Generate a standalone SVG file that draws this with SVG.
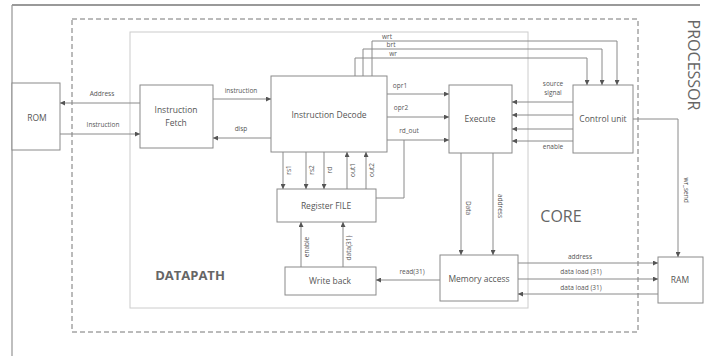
<svg xmlns="http://www.w3.org/2000/svg" width="708" height="356" viewBox="0 0 708 356">
<style>
.box{fill:#fff;stroke:#8a8a8a;stroke-width:1}
.ln{fill:none;stroke:#8a8a8a;stroke-width:1}
.ar{marker-end:url(#ah)}
.t{font-family:"Open Sans","DejaVu Sans",sans-serif;fill:#555;font-size:8.5px;text-anchor:middle}
.s{font-family:"Open Sans","DejaVu Sans",sans-serif;fill:#555;font-size:6.5px;text-anchor:middle}
.big{font-family:"Open Sans","DejaVu Sans",sans-serif;fill:#666;text-anchor:middle}
</style>
<defs>
<marker id="ah" viewBox="0 0 6 6" refX="6" refY="3" markerWidth="5" markerHeight="5" markerUnits="userSpaceOnUse" orient="auto">
<path d="M0,0 L6,3 L0,6 z" fill="#555"/>
</marker>
</defs>
<rect width="708" height="356" fill="#fff"/>
<g id="processor">
<line x1="12" y1="5" x2="12" y2="356" stroke="#aaa" stroke-width="1.5"/>
<line x1="12" y1="5" x2="700" y2="5" stroke="#999" stroke-width="2"/>
<text class="big" font-size="16" transform="translate(688,65) rotate(90)">PROCESSOR</text>
</g>
<g id="core">
<rect x="72" y="19" width="566" height="313" fill="none" stroke="#777" stroke-width="1" stroke-dasharray="5,3"/>
<text class="big" font-size="16" x="561" y="222">CORE</text>
</g>
<g id="datapath">
<rect x="130" y="32" width="398" height="276" fill="none" stroke="#ccc" stroke-width="1"/>
<text class="big" font-size="13" x="190" y="280" font-weight="bold" fill="#777">DATAPATH</text>
</g>
<g id="rom"><rect class="box" x="12" y="83" width="48" height="67"/><text class="t" font-size="10" x="37" y="121">ROM</text></g>
<g id="fetch"><rect class="box" x="140" y="85" width="73" height="63"/><text class="t" x="176" y="113">Instruction</text><text class="t" x="176" y="126">Fetch</text></g>
<g id="decode"><rect class="box" x="271" y="76" width="116" height="76"/><text class="t" x="329" y="118">Instruction Decode</text></g>
<g id="execute"><rect class="box" x="449" y="85" width="63" height="68"/><text class="t" x="480" y="122">Execute</text></g>
<g id="control"><rect class="box" x="573" y="85" width="60" height="68"/><text class="t" x="603" y="122">Control unit</text></g>
<g id="regfile"><rect class="box" x="277" y="189" width="99" height="33"/><text class="t" x="326" y="209">Register FILE</text></g>
<g id="writeback"><rect class="box" x="285" y="267" width="91" height="28"/><text class="t" x="330" y="284">Write back</text></g>
<g id="memaccess"><rect class="box" x="440" y="255" width="78" height="46"/><text class="t" x="479" y="282">Memory access</text></g>
<g id="ram"><rect class="box" x="658" y="257" width="45" height="46"/><text class="t" x="680" y="283">RAM</text></g>
<g id="connectors">
<line class="ln ar" x1="140" y1="103" x2="60" y2="103"/>
<text class="s" x="102" y="96">Address</text>
<line class="ln ar" x1="60" y1="134" x2="140" y2="134"/>
<text class="s" x="103" y="127">Instruction</text>
<line class="ln ar" x1="213" y1="99" x2="271" y2="99"/>
<text class="s" x="241" y="93">instruction</text>
<line class="ln ar" x1="271" y1="138" x2="213" y2="138"/>
<text class="s" x="241" y="131">disp</text>
<line class="ln ar" x1="387" y1="94" x2="449" y2="94"/>
<text class="s" x="400" y="88">opr1</text>
<line class="ln ar" x1="387" y1="117" x2="449" y2="117"/>
<text class="s" x="401" y="110">opr2</text>
<line class="ln ar" x1="387" y1="140" x2="449" y2="140"/>
<text class="s" x="409" y="133">rd_out</text>
<path class="ln" d="M404,140 V198 H376"/>
<path class="ln ar" d="M355,76 V58 H587 V85"/>
<path class="ln ar" d="M363,76 V49 H602 V85"/>
<path class="ln ar" d="M372,76 V41 H617 V85"/>
<text class="s" x="387" y="39">wrt</text>
<text class="s" x="391" y="47">brt</text>
<text class="s" x="393" y="56">wr</text>
<line class="ln ar" x1="573" y1="102" x2="512" y2="102"/>
<line class="ln ar" x1="573" y1="115" x2="512" y2="115"/>
<line class="ln ar" x1="573" y1="129" x2="512" y2="129"/>
<line class="ln ar" x1="573" y1="141" x2="512" y2="141"/>
<text class="s" x="553" y="86">source</text>
<text class="s" x="553" y="95">signal</text>
<text class="s" x="553" y="149">enable</text>
<line class="ln ar" x1="283" y1="152" x2="283" y2="189"/>
<line class="ln ar" x1="306" y1="152" x2="306" y2="189"/>
<line class="ln ar" x1="324" y1="152" x2="324" y2="189"/>
<line class="ln ar" x1="347" y1="189" x2="347" y2="152"/>
<line class="ln ar" x1="366" y1="189" x2="366" y2="152"/>
<text class="s" transform="translate(291,170) rotate(-90)">rs1</text>
<text class="s" transform="translate(314,170) rotate(-90)">rs2</text>
<text class="s" transform="translate(332,170) rotate(-90)">rd</text>
<text class="s" transform="translate(355,170) rotate(-90)">out1</text>
<text class="s" transform="translate(374,170) rotate(-90)">out2</text>
<line class="ln ar" x1="301" y1="267" x2="301" y2="222"/>
<line class="ln ar" x1="343" y1="267" x2="343" y2="222"/>
<text class="s" font-size="7" transform="translate(309,247) rotate(-90)">enable</text>
<text class="s" font-size="7" transform="translate(351,248) rotate(-90)">data(31)</text>
<line class="ln ar" x1="461" y1="153" x2="461" y2="255"/>
<line class="ln ar" x1="493" y1="153" x2="493" y2="255"/>
<text class="s" font-size="8.5" transform="translate(466,208) rotate(90)">Data</text>
<text class="s" font-size="8.5" transform="translate(498,206) rotate(90)">address</text>
<line class="ln ar" x1="440" y1="280" x2="376" y2="280"/>
<text class="s" font-size="7" x="412" y="274">read(31)</text>
<line class="ln ar" x1="518" y1="263" x2="658" y2="263"/>
<text class="s" font-size="7" x="580" y="259">address</text>
<line class="ln ar" x1="518" y1="279" x2="658" y2="279"/>
<text class="s" font-size="7" x="581" y="274">data load (31)</text>
<line class="ln ar" x1="658" y1="294" x2="518" y2="294"/>
<text class="s" font-size="7" x="581" y="290">data load (31)</text>
<path class="ln ar" d="M633,119 H678 V257"/>
<text class="s" font-size="8" transform="translate(684,190) rotate(90)">wr_send</text>
</g>
</svg>
